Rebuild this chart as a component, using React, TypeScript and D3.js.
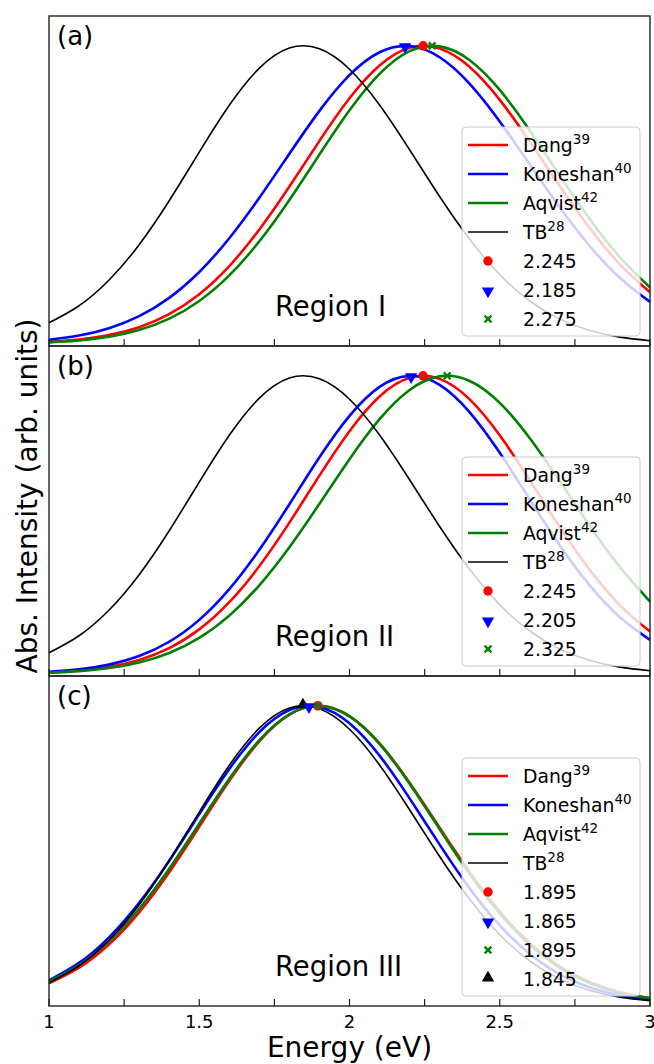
import React from 'react';
import * as d3 from 'd3';

// energy grid (eV) the curves were read at
const energy = [1.0, 1.1, 1.2, 1.3, 1.4, 1.5, 1.6, 1.7, 1.8, 1.9, 2.0, 2.1, 2.2, 2.3, 2.4, 2.5, 2.6, 2.7, 2.8, 2.9, 3.0];

// TB reference spectrum (same in every panel)
const tbCurve = [0.0710, 0.1280, 0.2142, 0.3329, 0.4803, 0.6436, 0.8007, 0.9251, 0.9925, 0.9898, 0.9215, 0.8016, 0.6514, 0.4945, 0.3508, 0.2324, 0.1439, 0.0832, 0.0450, 0.0227, 0.0107];

// Region I
const dangA = [0.0067, 0.0146, 0.0295, 0.0561, 0.0999, 0.1669, 0.2613, 0.3837, 0.5278, 0.6811, 0.8240, 0.9340, 0.9935, 0.9907, 0.9288, 0.8187, 0.6786, 0.5289, 0.3876, 0.2671, 0.1731];
const koneshanA = [0.0142, 0.0282, 0.0529, 0.0932, 0.1545, 0.2413, 0.3545, 0.4903, 0.6381, 0.7818, 0.9015, 0.9783, 0.9993, 0.9617, 0.8725, 0.7462, 0.6017, 0.4573, 0.3277, 0.2214, 0.1410];
const aqvistA = [0.0053, 0.0116, 0.0240, 0.0466, 0.0846, 0.1441, 0.2299, 0.3442, 0.4830, 0.6353, 0.7836, 0.9059, 0.9820, 0.9980, 0.9518, 0.8520, 0.7159, 0.5646, 0.4180, 0.2905, 0.1895];

// Region II
const dangB = [0.0050, 0.0112, 0.0238, 0.0470, 0.0867, 0.1494, 0.2406, 0.3617, 0.5076, 0.6653, 0.8142, 0.9306, 0.9931, 0.9897, 0.9211, 0.8004, 0.6495, 0.4922, 0.3483, 0.2301, 0.1420];
const koneshanB = [0.0068, 0.0151, 0.0311, 0.0600, 0.1079, 0.1813, 0.2843, 0.4163, 0.5691, 0.7265, 0.8655, 0.9628, 0.9999, 0.9695, 0.8775, 0.7416, 0.5850, 0.4309, 0.2963, 0.1902, 0.1140];
const aqvistB = [0.0043, 0.0095, 0.0196, 0.0383, 0.0702, 0.1208, 0.1955, 0.2973, 0.4249, 0.5707, 0.7204, 0.8545, 0.9526, 0.9981, 0.9827, 0.9093, 0.7907, 0.6461, 0.4963, 0.3582, 0.2429];

// Region III
const dangC = [0.0693, 0.1216, 0.1999, 0.3073, 0.4419, 0.5945, 0.7483, 0.8810, 0.9704, 0.9999, 0.9653, 0.8740, 0.7422, 0.5912, 0.4416, 0.3094, 0.2033, 0.1253, 0.0725, 0.0393, 0.0200];
const koneshanC = [0.0792, 0.1375, 0.2234, 0.3389, 0.4805, 0.6367, 0.7882, 0.9119, 0.9858, 0.9959, 0.9414, 0.8329, 0.6896, 0.5344, 0.3876, 0.2631, 0.1672, 0.0994, 0.0553, 0.0288, 0.0140];
const aqvistC = [0.0755, 0.1302, 0.2105, 0.3192, 0.4537, 0.6046, 0.7553, 0.8846, 0.9714, 0.9999, 0.9647, 0.8721, 0.7386, 0.5861, 0.4357, 0.3035, 0.1981, 0.1211, 0.0694, 0.0373, 0.0187];

// peak positions shown as markers (Dang, Koneshan, Aqvist, TB)
const peaksA = [2.245, 2.185, 2.275];
const peaksB = [2.245, 2.205, 2.325];
const peaksC = [1.895, 1.865, 1.895, 1.845];

const seriesNames = ['Dang', 'Koneshan', 'Aqvist', 'TB'];
const seriesRefs = ['39', '40', '42', '28'];
const seriesColors = ['#ff0000', '#0000ff', '#008000', '#000000'];
const panelLabels = ['(a)', '(b)', '(c)'];
const regionLabels = ['Region I', 'Region II', 'Region III'];
const xTicks = [1, 1.25, 1.5, 1.75, 2, 2.25, 2.5, 2.75, 3];
const xTickLabels = ['1', '1.5', '2', '2.5', '3'];
const xTickLabelPos = [1, 1.5, 2, 2.5, 3];

const W = 654;
const H = 1064;
const left = 49;
const right = 650;
const top0 = 16;
const panelH = 330;
const font = 'DejaVu Sans, sans-serif';

const x = d3.scaleLinear().domain([1, 3]).range([left, right]);

const panels = [
  { curves: [dangA, koneshanA, aqvistA, tbCurve], peaks: peaksA },
  { curves: [dangB, koneshanB, aqvistB, tbCurve], peaks: peaksB },
  { curves: [dangC, koneshanC, aqvistC, tbCurve], peaks: peaksC },
];

const Marker = ({ i, cx, cy }: { i: number; cx: number; cy: number }) => {
  const c = seriesColors[i];
  if (i === 0) return <circle cx={cx} cy={cy} r={4.7} fill={c} />;
  if (i === 1) {
    const p = d3.symbol(d3.symbolTriangle, 66)();
    return <path d={p || ''} fill={c} transform={`translate(${cx},${cy + 1}) rotate(180)`} />;
  }
  if (i === 2) {
    return (
      <path d="M-3.4,-3.4L3.4,3.4M-3.4,3.4L3.4,-3.4" stroke={c} strokeWidth={2.3}
        transform={`translate(${cx},${cy})`} />
    );
  }
  const p = d3.symbol(d3.symbolTriangle, 66)();
  return <path d={p || ''} fill={c} transform={`translate(${cx},${cy - 1})`} />;
};

const Panel = ({ idx }: { idx: number }) => {
  const pTop = top0 + idx * panelH;
  const pBot = pTop + panelH;
  const y = d3.scaleLinear().domain([-0.007, 1.1]).range([pBot, pTop]);
  const line = d3.line<number>()
    .x((_, j) => x(energy[j]))
    .y(d => y(d))
    .curve(d3.curveNatural);
  const { curves, peaks } = panels[idx];

  // legend
  const nRows = 4 + peaks.length;
  const rowH = 29;
  const lgW = 178;
  const lgH = nRows * rowH + 6;
  const lgX = right - 10 - lgW;
  const lgY = pBot - 10 - lgH;
  const rowY = (k: number) => lgY + 18 + k * rowH;

  // TB marker sits beneath the others at the peak
  const order = peaks.map((_, i) => i).sort((a, b) => (a === 3 ? -1 : b === 3 ? 1 : 0));

  return (
    <g>
      {curves.map((c, i) => (
        <path key={i} d={line(c) || ''} fill="none" stroke={seriesColors[i]}
          strokeWidth={i === 3 ? 1.6 : 2.6} />
      ))}
      {order.map(i => (
        <Marker key={i} i={i} cx={x(peaks[i])} cy={y(1)} />
      ))}
      <text x={57} y={pTop + 29} fontSize={26} fontFamily={font}>{panelLabels[idx]}</text>
      <text x={275} y={pTop + 300} fontSize={27.5} fontFamily={font}>{regionLabels[idx]}</text>

      <rect x={lgX} y={lgY} width={lgW} height={lgH} rx={4} fill="#ffffff" fillOpacity={0.8}
        stroke="#cccccc" strokeWidth={1} />
      {seriesNames.map((n, i) => (
        <g key={n}>
          <line x1={lgX + 6} x2={lgX + 46} y1={rowY(i)} y2={rowY(i)} stroke={seriesColors[i]}
            strokeWidth={i === 3 ? 1.6 : 2.6} />
          <text x={lgX + 61} y={rowY(i) + 6.7} fontSize={18.8} fontFamily={font}>
            {n}
            <tspan fontSize={13.5} dy={-7.5}>{seriesRefs[i]}</tspan>
          </text>
        </g>
      ))}
      {peaks.map((p, i) => (
        <g key={'m' + i}>
          <Marker i={i} cx={lgX + 26} cy={rowY(4 + i)} />
          <text x={lgX + 61} y={rowY(4 + i) + 6.7} fontSize={18.8} fontFamily={font}>
            {p.toFixed(3)}
          </text>
        </g>
      ))}

      {xTicks.map(t => (
        <line key={t} x1={x(t)} x2={x(t)} y1={pBot} y2={pBot - 7} stroke="#222" strokeWidth={1.2} />
      ))}
      <rect x={left} y={pTop} width={right - left} height={panelH} fill="none" stroke="#222" strokeWidth={1.4} />
    </g>
  );
};

export default function App() {
  const bottom = top0 + 3 * panelH;
  return (
    <svg width={W} height={H} style={{ position: 'absolute', left: 0, top: 0, background: '#fff' }}>
      <rect width={W} height={H} fill="#fff" />
      {[0, 1, 2].map(i => <Panel key={i} idx={i} />)}
      {xTickLabelPos.map((t, i) => (
        <text key={t} x={x(t)} y={bottom + 22} fontSize={18} fontFamily={font} textAnchor="middle">
          {xTickLabels[i]}
        </text>
      ))}
      <text x={(left + right) / 2} y={1057} fontSize={28} fontFamily={font} textAnchor="middle">
        Energy (eV)
      </text>
      <text x={37} y={496} fontSize={28} fontFamily={font} textAnchor="middle"
        transform="rotate(-90, 37, 496)">
        Abs. Intensity (arb. units)
      </text>
    </svg>
  );
}
